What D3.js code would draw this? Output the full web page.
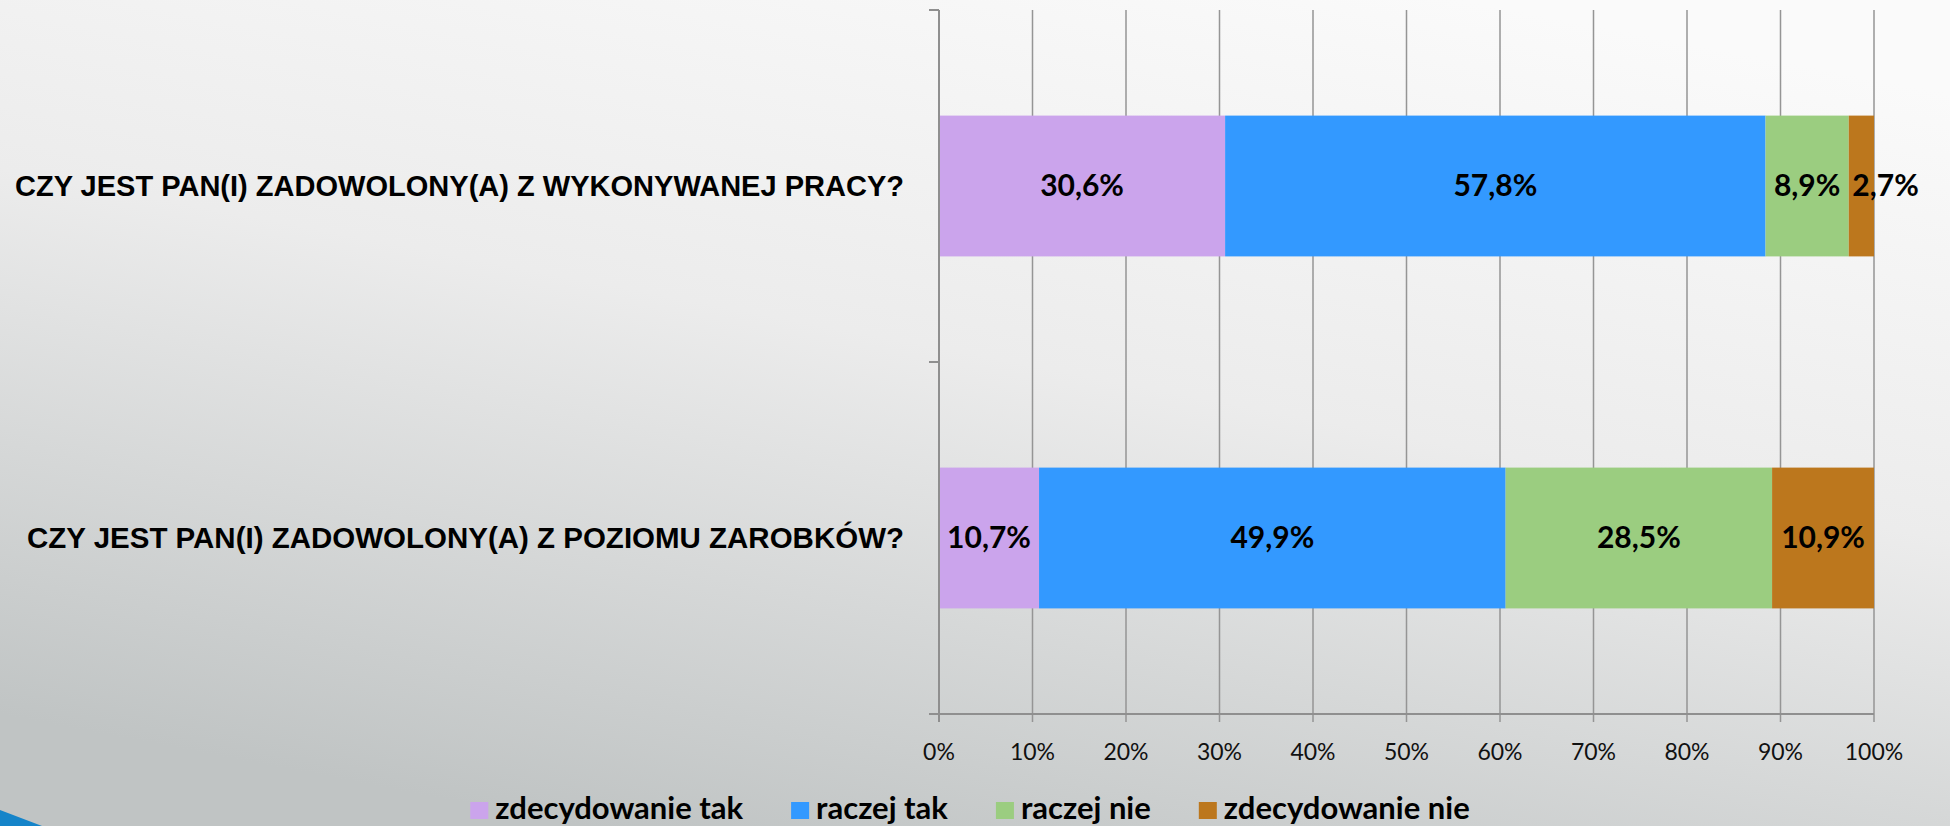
<!DOCTYPE html>
<html>
<head>
<meta charset="utf-8">
<script src="https://cdn.jsdelivr.net/npm/d3@7"></script>
<style>
  html, body { margin: 0; padding: 0; overflow: hidden; }
  svg { display: block; }
</style>
</head>
<body>
<div id="chart"></div>
<script>
// data
var questions = ["CZY JEST PAN(I) ZADOWOLONY(A) Z WYKONYWANEJ PRACY?", "CZY JEST PAN(I) ZADOWOLONY(A) Z POZIOMU ZAROBKÓW?"];
var answers = ["zdecydowanie tak", "raczej tak", "raczej nie", "zdecydowanie nie"];
var pracy = [30.6, 57.8, 8.9, 2.7];
var zarobki = [10.7, 49.9, 28.5, 10.9];
var ticks = [0, 10, 20, 30, 40, 50, 60, 70, 80, 90, 100];
var colors = ["#cba4ec", "#3399ff", "#9bcd80", "#bc771d"];

var width = 1950, height = 826;
var margin = { left: 939, right: 76, top: 10, bottom: 112 };

var svg = d3.select("#chart").append("svg").attr("width", width).attr("height", height);

// background
var defs = svg.append("defs");
var grad = defs.append("linearGradient").attr("id", "bg")
  .attr("x1", "0.75").attr("y1", "0").attr("x2", "0.3").attr("y2", "1");
grad.append("stop").attr("offset", "0").attr("stop-color", "#fafafa");
grad.append("stop").attr("offset", "0.45").attr("stop-color", "#ececec");
grad.append("stop").attr("offset", "1").attr("stop-color", "#c0c4c4");
svg.append("rect").attr("width", width).attr("height", height).attr("fill", "url(#bg)");
svg.append("path").attr("d", "M0,810L42,826L0,826Z").attr("fill", "#1584c9");

var x = d3.scaleLinear().domain([0, 100]).range([margin.left, width - margin.right]);
var y = d3.scaleBand().domain(questions).range([margin.top, height - margin.bottom]).paddingInner(0.6).paddingOuter(0.3);
var yEdge = d3.scaleBand().domain(questions).range([margin.top, height - margin.bottom]);

var rows = [pracy, zarobki].map(function(vals, i) {
  var acc = 0;
  return vals.map(function(v, j) {
    var s = { q: questions[i], k: j, v: v, x0: acc, x1: acc + v };
    acc += v;
    return s;
  });
});

// gridlines
svg.append("g").selectAll("line").data(ticks.slice(1)).enter().append("line")
  .attr("x1", d => x(d)).attr("x2", d => x(d))
  .attr("y1", margin.top).attr("y2", height - margin.bottom + 8)
  .attr("stroke", "#959595").attr("stroke-width", 1.5);

// bars
var g = svg.append("g");
rows.forEach(function(row) {
  g.selectAll(null).data(row).enter().append("rect")
    .attr("x", d => x(d.x0)).attr("width", d => x(d.x1) - x(d.x0))
    .attr("y", d => y(d.q)).attr("height", y.bandwidth())
    .attr("fill", d => colors[d.k]);
});

// axes lines
var ax = svg.append("g").attr("stroke", "#8f8f8f").attr("stroke-width", 2);
ax.append("line").attr("x1", x(0)).attr("x2", x(0)).attr("y1", margin.top).attr("y2", height - margin.bottom + 8);
ax.append("line").attr("x1", x(0) - 10).attr("x2", x(100)).attr("y1", height - margin.bottom).attr("y2", height - margin.bottom);
ax.selectAll(null).data(questions).enter().append("line")
  .attr("x1", x(0) - 10).attr("x2", x(0))
  .attr("y1", d => yEdge(d)).attr("y2", d => yEdge(d));

// tick labels
svg.append("g").selectAll("text").data(ticks).enter().append("text")
  .attr("x", d => x(d)).attr("y", height - margin.bottom + 46)
  .attr("text-anchor", "middle")
  .style("font-family", "Lato, 'Open Sans', sans-serif").style("font-size", "23px").attr("fill", "#111")
  .text(d => d + "%");

// data labels
rows.forEach(function(row) {
  var prevEnd = -Infinity;
  row.forEach(function(d) {
    var t = g.append("text")
      .attr("y", y(d.q) + y.bandwidth() / 2 + 10)
      .attr("text-anchor", "middle")
      .style("font-family", "Lato, 'Open Sans', sans-serif").style("font-weight", "bold").style("font-size", "30px")
      .attr("fill", "#000")
      .text(d3.format(".1f")(d.v).replace(".", ",") + "%");
    var w = t.node().getComputedTextLength();
    var cx = Math.max((x(d.x0) + x(d.x1)) / 2, prevEnd + 12 + w / 2);
    t.attr("x", cx);
    prevEnd = cx + w / 2;
  });
});

// category labels
var catLeft = [15, 27];
svg.append("g").selectAll("text").data(questions).enter().append("text")
  .attr("x", (d, i) => catLeft[i]).attr("y", d => y(d) + y.bandwidth() / 2 + 10)
  .attr("textLength", (d, i) => 904 - catLeft[i]).attr("lengthAdjust", "spacingAndGlyphs")
  .style("font-family", "'Liberation Sans', Arial, sans-serif").style("font-weight", "bold").style("font-size", "29px")
  .attr("fill", "#000")
  .text(d => d);

// legend
var leg = svg.append("g");
var items = leg.selectAll("g").data(answers).enter().append("g");
items.append("rect").attr("width", 18).attr("height", 17).attr("y", 802).attr("fill", (d, i) => colors[i]);
items.append("text").attr("x", 25).attr("y", 819)
  .style("font-family", "Lato, 'Open Sans', sans-serif").style("font-weight", "bold").style("font-size", "31px")
  .attr("fill", "#000").text(d => d);
var pos = 0;
items.each(function() {
  var w = d3.select(this).select("text").node().getComputedTextLength();
  d3.select(this).attr("transform", "translate(" + pos + ",0)");
  pos += 25 + w + 48;
});
var total = pos - 48;
leg.attr("transform", "translate(" + (970 - total / 2) + ",0)");
</script>
</body>
</html>
